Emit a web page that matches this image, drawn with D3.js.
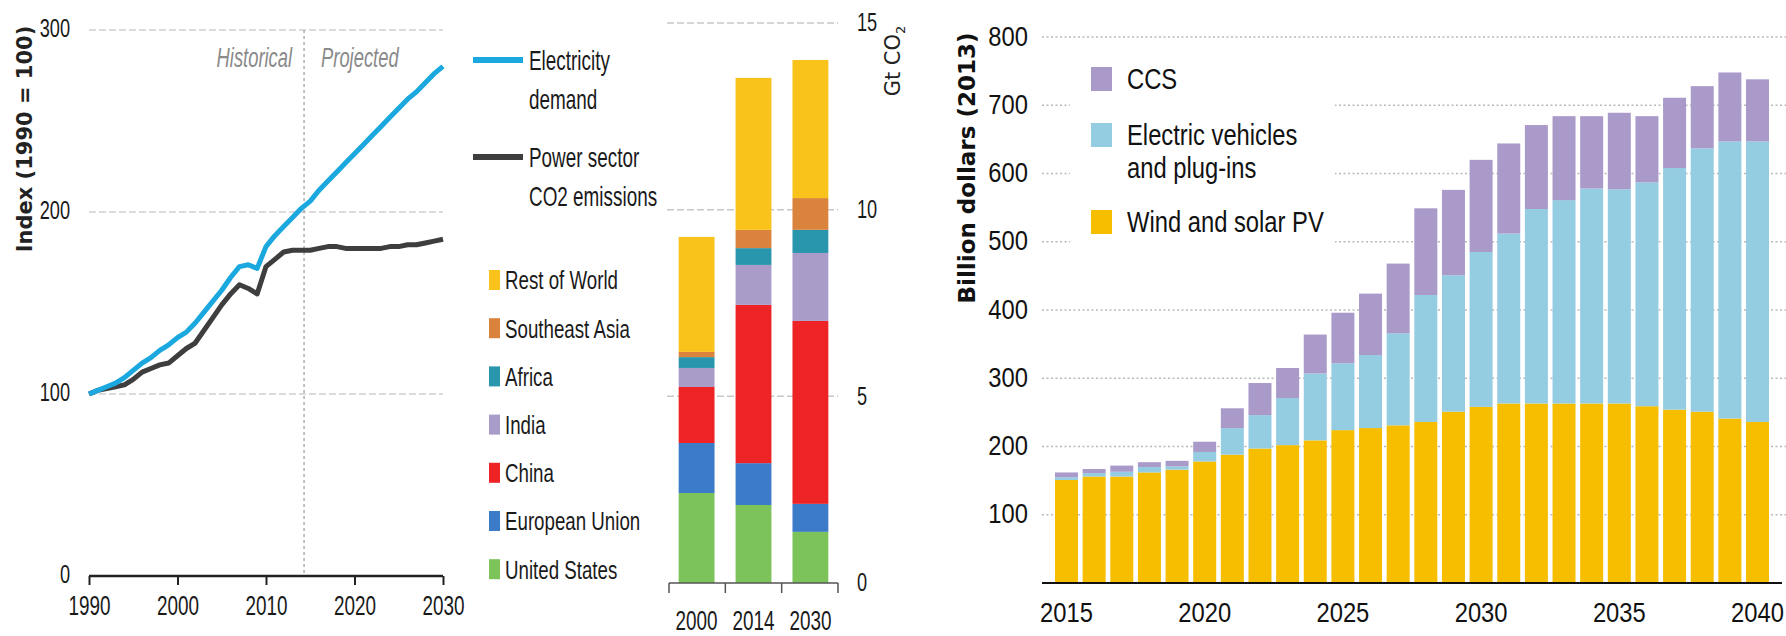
<!DOCTYPE html>
<html>
<head>
<meta charset="utf-8">
<script src="https://cdn.jsdelivr.net/npm/d3@7"></script>
<style>
  body { margin: 0; background: #fff; }
  svg { display: block; }
</style>
</head>
<body>
<svg id="chart" width="1786" height="636"></svg>
<script>
// ---- data ----
var years = d3.range(1990, 2031);
var demand = [100, 102, 104, 106, 109, 113, 117, 120, 124, 127, 131, 134, 139, 145, 151, 157, 164, 170, 171, 169,
  181, 187, 192, 197, 202, 206, 212, 217, 222, 227, 232, 237, 242, 247, 252, 257, 262, 266, 271, 276, 280];
var emissions = [100, 102, 103, 104, 105, 108, 112, 114, 116, 117, 121, 125, 128, 135, 142, 149, 155, 160, 158, 155,
  170, 174, 178, 179, 179, 179, 180, 181, 181, 180, 180, 180, 180, 180, 181, 181, 182, 182, 183, 184, 185];
var lineTicks = [0, 100, 200, 300];
var lineYearTicks = [1990, 2000, 2010, 2020, 2030];

var regionYears = ["2000", "2014", "2030"];
var regions = ["United States", "European Union", "China", "India", "Africa", "Southeast Asia", "Rest of World"];
var regionColors = ["#7cc35a", "#3b7bc8", "#ee2326", "#a99cc9", "#2a96ae", "#d9833c", "#fac31c"];
var usVals = [2.41, 2.09, 1.37];
var euVals = [1.34, 1.12, 0.75];
var chinaVals = [1.50, 4.24, 4.90];
var indiaVals = [0.51, 1.07, 1.82];
var africaVals = [0.29, 0.45, 0.62];
var seaVals = [0.14, 0.49, 0.85];
var rowVals = [3.08, 4.07, 3.70];
var gtTicks = [0, 5, 10, 15];

var invYears = d3.range(2015, 2041);
var windSolar = [151, 156, 156, 162, 166, 178, 188, 197, 202, 209, 224, 227, 231, 236, 251, 258, 263, 263, 263, 263, 263, 259, 254, 251, 241, 236];
var evPlugins = [4, 5, 7, 8, 5, 14, 39, 49, 69, 98, 98, 107, 135, 186, 200, 227, 249, 285, 298, 315, 314, 328, 354, 386, 406, 411];
var ccs = [7, 6, 9, 7, 8, 15, 29, 47, 44, 57, 74, 90, 102, 127, 125, 135, 132, 123, 123, 106, 112, 97, 103, 91, 101, 91];
var invSeries = ["Wind and solar PV", "Electric vehicles", "CCS"];
var invColors = ["#f7be00", "#94cce1", "#a99aca"];
var invTicks = [100, 200, 300, 400, 500, 600, 700, 800];
var invYearTicks = [2015, 2020, 2025, 2030, 2035, 2040];

var FONT = "'Liberation Sans','Arimo',Arial,sans-serif";
var TITLEFONT = "'DejaVu Sans','Verdana',sans-serif";

var svg = d3.select("#chart");

// squeezed text, like the condensed face of the original
var label = function(g, x, y, str, size, sx, anchor, color, italic) {
  return g.append("text")
    .attr("transform", "translate(" + x + "," + y + ") scale(" + sx + ",1)")
    .attr("dy", "0.36em")
    .attr("text-anchor", anchor || "start")
    .attr("font-family", FONT)
    .attr("font-size", size)
    .attr("font-style", italic ? "italic" : "normal")
    .attr("fill", color || "#1a1a1a")
    .text(str);
}

// ============ panel 1 : index lines ============
var x1 = d3.scaleLinear().domain([1990, 2030]).range([89, 443]);
var y1 = d3.scaleLinear().domain([0, 300]).range([576, 30]);
var p1 = svg.append("g");

p1.selectAll(".grid1").data(lineTicks.filter(function(d) { return d > 0; })).enter().append("line")
  .attr("x1", x1(1990)).attr("x2", x1(2030))
  .attr("y1", function(d) { return y1(d); }).attr("y2", function(d) { return y1(d); })
  .attr("stroke", "#cfcfcf").attr("stroke-width", 1.5).attr("stroke-dasharray", "7,3");

lineTicks.forEach(function(d) {
  label(p1, 70, y1(d) - 2, d, 26, 0.7, "end");
});

// historical / projected split
var split = x1(2014.3);
p1.append("line").attr("x1", split).attr("x2", split).attr("y1", y1(300)).attr("y2", y1(0))
  .attr("stroke", "#9a9a9a").attr("stroke-width", 1.2).attr("stroke-dasharray", "3,3");
label(p1, split - 12, 57, "Historical", 27, 0.68, "end", "#8a8a8a", true);
label(p1, split + 17, 57, "Projected", 27, 0.68, "start", "#8a8a8a", true);

var ax1 = d3.axisBottom(x1).tickValues(lineYearTicks).tickFormat(d3.format("d")).tickSize(9).tickPadding(0);
var gx1 = p1.append("g").attr("transform", "translate(0," + y1(0) + ")").call(ax1);
gx1.select(".domain").attr("stroke", "#222").attr("stroke-width", 2.5).attr("d", "M" + x1(1990) + ",0H" + x1(2030));
gx1.selectAll(".tick line").attr("stroke", "#222").attr("stroke-width", 2);
gx1.selectAll(".tick text").attr("font-family", FONT).attr("font-size", 27).attr("fill", "#1a1a1a")
  .attr("y", 29).attr("dy", "0.36em").attr("transform", "scale(0.7,1)");

var line1 = d3.line().x(function(d, i) { return x1(years[i]); }).y(function(d) { return y1(d); });
p1.append("path").datum(emissions).attr("d", line1).attr("fill", "none")
  .attr("stroke", "#3e3e3e").attr("stroke-width", 5).attr("stroke-linejoin", "round");
p1.append("path").datum(demand).attr("d", line1).attr("fill", "none")
  .attr("stroke", "#1aa8de").attr("stroke-width", 5).attr("stroke-linejoin", "round");

p1.append("text").attr("transform", "translate(25,139) rotate(-90)").attr("text-anchor", "middle").attr("dy", "0.35em")
  .attr("font-family", TITLEFONT).attr("font-weight", "bold").attr("font-size", 21).attr("fill", "#222")
  .text("Index (1990 = 100)");

// line legend
var lineLegend = [
  { color: "#1aa8de", lines: ["Electricity", "demand"], y: 60 },
  { color: "#3e3e3e", lines: ["Power sector", "CO2 emissions"], y: 157 }
];
lineLegend.forEach(function(l) {
  p1.append("line").attr("x1", 473).attr("x2", 523).attr("y1", l.y).attr("y2", l.y)
    .attr("stroke", l.color).attr("stroke-width", 6);
  l.lines.forEach(function(t, i) {
    label(p1, 529, l.y + i * 39, t, 27, 0.7);
  });
});

// ============ panel 2 : regional emissions ============
var x2 = d3.scaleBand().domain(regionYears).range([669, 838]).paddingInner(0.37).paddingOuter(0.17);
var y2 = d3.scaleLinear().domain([0, 15]).range([583, 23]);
var p2 = svg.append("g");

p2.selectAll(".grid2").data(gtTicks.filter(function(d) { return d > 0; })).enter().append("line")
  .attr("x1", 667).attr("x2", 838)
  .attr("y1", function(d) { return y2(d); }).attr("y2", function(d) { return y2(d); })
  .attr("stroke", "#c8c8c8").attr("stroke-width", 1.5).attr("stroke-dasharray", "7,3");

var regionTable = regionYears.map(function(yr, i) {
  return {
    year: yr,
    "United States": usVals[i], "European Union": euVals[i], "China": chinaVals[i], "India": indiaVals[i],
    "Africa": africaVals[i], "Southeast Asia": seaVals[i], "Rest of World": rowVals[i]
  };
});
var stack2 = d3.stack().keys(regions)(regionTable);
p2.selectAll(".layer2").data(stack2).enter().append("g")
  .attr("fill", function(d, i) { return regionColors[i]; })
  .selectAll("rect").data(function(d) { return d; }).enter().append("rect")
  .attr("x", function(d) { return x2(d.data.year); })
  .attr("width", x2.bandwidth())
  .attr("y", function(d) { return y2(d[1]); })
  .attr("height", function(d) { return y2(d[0]) - y2(d[1]); });

p2.append("line").attr("x1", 669).attr("x2", 838).attr("y1", y2(0)).attr("y2", y2(0))
  .attr("stroke", "#555").attr("stroke-width", 1.5);
d3.range(4).forEach(function(i) {
  var bx = 669 + i * (838 - 669) / 3;
  p2.append("line").attr("x1", bx).attr("x2", bx).attr("y1", y2(0)).attr("y2", y2(0) + 10)
    .attr("stroke", "#555").attr("stroke-width", 1.5);
});
regionYears.forEach(function(d) {
  label(p2, x2(d) + x2.bandwidth() / 2, 620, d, 27, 0.7, "middle");
});
gtTicks.forEach(function(d) {
  label(p2, 857, y2(d) - 1, d, 26, 0.7);
});

var gt = p2.append("text").attr("transform", "translate(893,61) rotate(-90)").attr("text-anchor", "middle")
  .attr("dy", "0.35em").attr("font-family", TITLEFONT).attr("font-size", 21).attr("fill", "#222");
gt.append("tspan").text("Gt CO");
gt.append("tspan").attr("font-size", 13).attr("dy", "5").text("2");

// region legend, top entry first
var legRegions = regions.slice().reverse();
var legColors = regionColors.slice().reverse();
p2.selectAll(".legr").data(legRegions).enter().append("rect")
  .attr("x", 489).attr("width", 11).attr("height", 20)
  .attr("y", function(d, i) { return 280 + i * 48.2 - 10; })
  .attr("fill", function(d, i) { return legColors[i]; });
legRegions.forEach(function(d, i) {
  label(p2, 505, 280 + i * 48.2, d, 26, 0.72);
});

// ============ panel 3 : investment ============
var x3 = d3.scaleBand().domain(invYears).range([1042, 1782]).paddingInner(0.168).paddingOuter(0.47);
var y3 = d3.scaleLinear().domain([0, 800]).range([583, 37]);
var p3 = svg.append("g");

p3.selectAll(".grid3").data(invTicks).enter().append("line")
  .attr("x1", 1042).attr("x2", 1786)
  .attr("y1", function(d) { return y3(d); }).attr("y2", function(d) { return y3(d); })
  .attr("stroke", "#b9b9b9").attr("stroke-width", 1.5).attr("stroke-dasharray", "2,2.5");

// white box behind the legend hides the gridlines
p3.append("rect").attr("x", 1070).attr("y", 48).attr("width", 265).attr("height", 240).attr("fill", "#fff");

var invTable = invYears.map(function(yr, i) {
  return { year: yr, "Wind and solar PV": windSolar[i], "Electric vehicles": evPlugins[i], "CCS": ccs[i] };
});
var stack3 = d3.stack().keys(invSeries)(invTable);
p3.selectAll(".layer3").data(stack3).enter().append("g")
  .attr("fill", function(d, i) { return invColors[i]; })
  .selectAll("rect").data(function(d) { return d; }).enter().append("rect")
  .attr("x", function(d) { return x3(d.data.year); })
  .attr("width", x3.bandwidth())
  .attr("y", function(d) { return y3(d[1]); })
  .attr("height", function(d) { return y3(d[0]) - y3(d[1]); });

p3.append("line").attr("x1", 1042).attr("x2", 1782).attr("y1", y3(0)).attr("y2", y3(0))
  .attr("stroke", "#111").attr("stroke-width", 2);
invYearTicks.forEach(function(d) {
  label(p3, x3(d) + x3.bandwidth() / 2, 612, d, 27, 0.88, "middle", "#111");
});
invTicks.forEach(function(d) {
  label(p3, 1028, y3(d) - 1, d, 27, 0.88, "end", "#111");
});

p3.append("text").attr("transform", "translate(967,168) rotate(-90)").attr("text-anchor", "middle").attr("dy", "0.35em")
  .attr("font-family", TITLEFONT).attr("font-weight", "bold").attr("font-size", 23).attr("fill", "#111")
  .text("Billion dollars (2013)");

var invLegend = [
  { color: invColors[2], lines: ["CCS"], y: 79 },
  { color: invColors[1], lines: ["Electric vehicles", "and plug-ins"], y: 135 },
  { color: invColors[0], lines: ["Wind and solar PV"], y: 222 }
];
invLegend.forEach(function(l) {
  p3.append("rect").attr("x", 1091).attr("y", l.y - 12).attr("width", 21).attr("height", 24).attr("fill", l.color);
  l.lines.forEach(function(t, i) {
    label(p3, 1127, l.y + i * 33, t, 29, 0.82, "start", "#111");
  });
});
</script>
</body>
</html>
